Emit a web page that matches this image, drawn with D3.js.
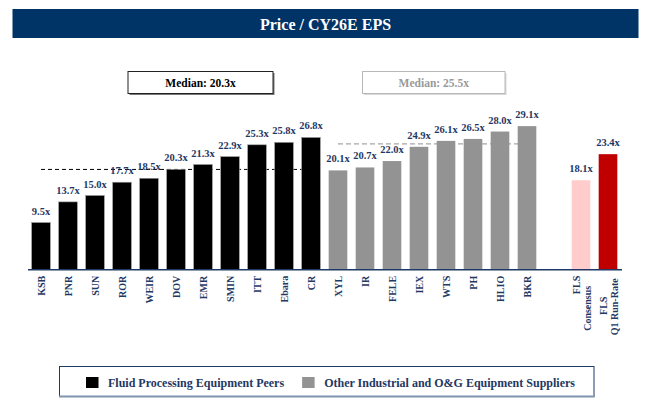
<!DOCTYPE html>
<html>
<head>
<meta charset="utf-8">
<script src="https://cdn.jsdelivr.net/npm/d3@7"></script>
<style>
  html, body { margin: 0; padding: 0; background: #fff; }
  svg, svg text { font-family: "Liberation Serif", "Times New Roman", Times, "DejaVu Serif", serif !important; }
</style>
</head>
<body>
<svg id="chart" width="651" height="412"></svg>
<script>
// ---- data ----
const peerNames = ["KSB", "PNR", "SUN", "ROR", "WEIR", "DOV", "EMR", "SMIN", "ITT", "Ebara", "CR"];
const peerValues = [9.5, 13.7, 15.0, 17.7, 18.5, 20.3, 21.3, 22.9, 25.3, 25.8, 26.8];
const otherNames = ["XYL", "IR", "FELE", "IEX", "WTS", "PH", "HLIO", "BKR"];
const otherValues = [20.1, 20.7, 22.0, 24.9, 26.1, 26.5, 28.0, 29.1];
const flsNames = ["FLS Consensus", "FLS Q1 Run-Rate"];
const flsLines = [["FLS", "Consensus"], ["FLS", "Q1 Run-Rate"]];
const flsValues = [18.1, 23.4];
const legendLabels = ["Fluid Processing Equipment Peers", "Other Industrial and O&G Equipment Suppliers"];
const titleText = "Price / CY26E EPS";

// ---- styles ----
const FONT = "'Liberation Serif', 'Times New Roman', Times, 'DejaVu Serif', serif";
const NAVY = "#1F3864";
const colPeer = "#000000", colOther = "#939393", colCons = "#FFCCCC", colRun = "#C00000";
const legendColors = [colPeer, colOther];

const svg = d3.select("#chart").attr("font-family", FONT);

// build table
const GAP = "__gap";
const rows = [];
peerNames.forEach((n, i) => rows.push({ key: n, value: peerValues[i], color: colPeer, group: "peer" }));
otherNames.forEach((n, i) => rows.push({ key: n, value: otherValues[i], color: colOther, group: "other" }));
flsNames.forEach((n, i) => rows.push({ key: n, value: flsValues[i], color: i === 0 ? colCons : colRun, group: "fls", lines: flsLines[i], idx: i }));
const domain = peerNames.concat(otherNames, [GAP], flsNames);

const x = d3.scaleBand().domain(domain).range([27.5, 621.5]).paddingInner(0.31).paddingOuter(0.155);
const y = d3.scaleLinear().domain([0, 30]).range([269.3, 121.7]);

// title bar
svg.append("rect").attr("x", 12.5).attr("y", 9).attr("width", 626).attr("height", 29).attr("fill", "#003366");
svg.append("text").attr("x", 325.5).attr("y", 29.5).attr("text-anchor", "middle").attr("font-family", FONT)
  .attr("fill", "#fff").attr("font-weight", "bold").attr("font-size", 16).text(titleText);

// median boxes
const medPeer = d3.median(peerValues), medOther = d3.median(otherValues);
const boxes = [
  { x0: 128, x1: 273, value: medPeer, stroke: "#222", text: "#000", shadow: "#777" },
  { x0: 362.5, x1: 505, value: medOther, stroke: "#b8b8b8", text: "#9a9a9a", shadow: "#d8d8d8" }
];
const bg = svg.append("g").selectAll("g").data(boxes).join("g");
bg.append("rect").attr("x", d => d.x0 + 1.5).attr("y", 73).attr("width", d => d.x1 - d.x0).attr("height", 22)
  .attr("fill", d => d.shadow);
bg.append("rect").attr("x", d => d.x0).attr("y", 71.5).attr("width", d => d.x1 - d.x0).attr("height", 22)
  .attr("fill", "#fff").attr("stroke", d => d.stroke).attr("stroke-width", 1);
bg.append("text").attr("x", d => (d.x0 + d.x1) / 2).attr("y", 86.5).attr("text-anchor", "middle").attr("font-family", FONT)
  .attr("font-weight", "bold").attr("font-size", 11.5).attr("fill", d => d.text)
  .text(d => "Median: " + d.value.toFixed(1) + "x");

// median dashed lines (behind bars)
svg.append("line")
  .attr("x1", x(peerNames[0]) + x.bandwidth() / 2).attr("x2", x(peerNames[peerNames.length - 1]) + x.bandwidth() / 2)
  .attr("y1", y(medPeer)).attr("y2", y(medPeer))
  .attr("stroke", "#000").attr("stroke-width", 1).attr("stroke-dasharray", "4,3");
svg.append("line")
  .attr("x1", x(otherNames[0]) + x.bandwidth() / 2).attr("x2", x(otherNames[otherNames.length - 1]) + x.bandwidth() / 2)
  .attr("y1", y(medOther)).attr("y2", y(medOther))
  .attr("stroke", "#a6a6a6").attr("stroke-width", 1.2).attr("stroke-dasharray", "5,3");

// bars
svg.append("g").selectAll("rect").data(rows).join("rect")
  .attr("x", d => x(d.key)).attr("width", x.bandwidth())
  .attr("y", d => y(d.value)).attr("height", d => y(0) - y(d.value))
  .attr("fill", d => d.color)
  .attr("stroke", d => d.group === "peer" ? "#9a9a9a" : "none").attr("stroke-width", 0.6);

// value labels
svg.append("g").selectAll("text").data(rows).join("text")
  .attr("x", d => x(d.key) + x.bandwidth() / 2).attr("y", d => y(d.value) - 8)
  .attr("text-anchor", "middle").attr("font-family", FONT).attr("font-weight", "bold").attr("font-size", 10.5)
  .attr("fill", NAVY).text(d => d.value.toFixed(1) + "x");

// x axis
const axis = d3.axisBottom(x).tickSize(0).tickFormat(d => (d === GAP || flsNames.includes(d)) ? "" : d);
const ax = svg.append("g").attr("transform", `translate(0,${y(0)})`).call(axis).attr("font-family", FONT);
ax.select(".domain").attr("stroke", NAVY).attr("stroke-width", 1.5);
ax.selectAll(".tick text")
  .attr("transform", "rotate(-90)").attr("text-anchor", "end")
  .attr("x", -6.5).attr("y", 0).attr("dy", "0.35em")
  .attr("font-family", FONT)
  .attr("font-size", 10).attr("font-weight", "bold").attr("fill", NAVY);

// FLS two-line labels
const flsRows = rows.filter(d => d.group === "fls");
const flsG = svg.append("g").selectAll("g").data(flsRows).join("g")
  .attr("transform", d => `translate(${x(d.key) + x.bandwidth() / 2},${y(0)}) rotate(-90)`);
const lineLayout = [
  [{ off: -4.5, anchor: "end", pos: -6.5 }, { off: 6.5, anchor: "middle", pos: -39 }],
  [{ off: -4.5, anchor: "middle", pos: -36.5 }, { off: 6.5, anchor: "middle", pos: -37.5 }]
];
flsG.each(function (d) {
  const g = d3.select(this);
  d.lines.forEach((ln, j) => {
    const L = lineLayout[d.idx][j];
    g.append("text").attr("x", L.pos).attr("y", L.off).attr("dy", "0.35em").attr("font-family", FONT)
      .attr("text-anchor", L.anchor).attr("font-size", 10).attr("font-weight", "bold")
      .attr("fill", NAVY).text(ln);
  });
});

// legend
svg.append("rect").attr("x", 59.5).attr("y", 366.5).attr("width", 534.5).attr("height", 30)
  .attr("fill", "#fff").attr("stroke", NAVY).attr("stroke-width", 1);
svg.append("line").attr("x1", 59).attr("x2", 594.5).attr("y1", 396.5).attr("y2", 396.5)
  .attr("stroke", "#7F93AE").attr("stroke-width", 2);
const lg = svg.append("g");
let cx = 86;
legendLabels.forEach((lab, i) => {
  lg.append("rect").attr("x", cx).attr("y", 377).attr("width", 12.5).attr("height", 11).attr("fill", legendColors[i]);
  const t = lg.append("text").attr("x", cx + 22).attr("y", 387).attr("font-family", FONT).attr("font-size", 12).attr("font-weight", "bold")
    .attr("fill", NAVY).text(lab);
  cx = cx + 22 + t.node().getComputedTextLength() + 18;
});
</script>
</body>
</html>
